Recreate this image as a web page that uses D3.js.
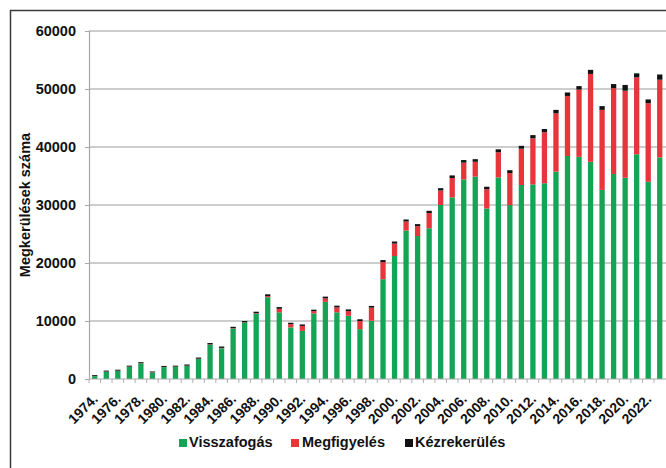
<!DOCTYPE html>
<html>
<head>
<meta charset="utf-8">
<script src="https://cdn.jsdelivr.net/npm/d3@7"></script>
<style>
  html, body { margin: 0; padding: 0; background: #fff; }
  svg { display: block; font-family: "Liberation Sans", Arial, sans-serif; }
</style>
</head>
<body>
<svg id="chart" width="666" height="468"></svg>
<script>
// Évek
const years = d3.range(1974, 2024);

// Visszafogás (zöld)
const visszafogas = [
  500, 1250, 1400, 2100, 2700, 1120, 2050, 2100, 2250, 3450,
  5900, 5300, 8700, 9700, 11250, 14100, 11500, 8900, 8300, 11300,
  13300, 11500, 10900, 8600, 10050, 17200, 21200, 25600, 24650, 26000,
  30000, 31300, 34400, 34900, 29400, 34750, 30000, 33450, 33550, 33750,
  35750, 38450, 38300, 37450, 32600, 35350, 34700, 38750, 34000, 38200
];

// Megfigyelés (piros)
const megfigyeles = [
  20, 30, 30, 30, 30, 30, 30, 30, 50, 50,
  60, 60, 60, 60, 100, 200, 600, 550, 850, 400,
  600, 840, 800, 1400, 2250, 2950, 2150, 1550, 1700, 2600,
  2500, 3350, 2900, 2550, 3300, 4350, 5500, 6250, 7950, 8800,
  10050, 10350, 11600, 15150, 13800, 14800, 15000, 13250, 13550, 13400
];

// Kézrekerülés (fekete)
const kezrekerules = [
  150, 170, 170, 170, 170, 150, 170, 170, 200, 200,
  240, 240, 240, 240, 250, 300, 300, 250, 250, 250,
  300, 300, 300, 300, 300, 350, 350, 350, 350, 400,
  400, 450, 450, 450, 450, 500, 500, 500, 550, 550,
  600, 600, 600, 700, 650, 700, 1000, 700, 650, 900
];

const yTicks = [0, 10000, 20000, 30000, 40000, 50000, 60000];

const seriesNames = ["Visszafogás", "Megfigyelés", "Kézrekerülés"];
const seriesColors = ["#14a456", "#e6353b", "#111111"];
const seriesKeys = ["v", "m", "k"];

const rows = years.map((yr, i) => ({
  year: yr, v: visszafogas[i], m: megfigyeles[i], k: kezrekerules[i]
}));

const svg = d3.select("#chart");

// Keret
svg.append("rect")
  .attr("x", 10.5).attr("y", 10.5)
  .attr("width", 720).attr("height", 520)
  .attr("fill", "none").attr("stroke", "#3a3a3a").attr("stroke-width", 1.5);

const plotLeft = 89, plotRight = 665.5, plotTop = 31, plotBottom = 379;

const x = d3.scaleBand()
  .domain(years)
  .range([plotLeft, plotRight])
  .paddingInner(0.54)
  .paddingOuter(0.27);

const y = d3.scaleLinear().domain([0, 60000]).range([plotBottom, plotTop]);

// Rácsvonalak
svg.append("g")
  .selectAll("line")
  .data(yTicks.filter(t => t > 0))
  .join("line")
  .attr("x1", plotLeft).attr("x2", 666)
  .attr("y1", d => y(d)).attr("y2", d => y(d))
  .attr("stroke", "#bcbcbc").attr("stroke-width", 1.5);

// Y tengely
const yAxis = svg.append("g")
  .attr("transform", `translate(${plotLeft},0)`)
  .call(d3.axisLeft(y).tickValues(yTicks).tickSize(4).tickPadding(9).tickFormat(d3.format("d")));
yAxis.select(".domain").attr("stroke", "#a8a8a8").attr("stroke-width", 1.2);
yAxis.selectAll(".tick line").attr("stroke", "#a8a8a8");
yAxis.selectAll(".tick text")
  .attr("font-size", "14.5px").attr("font-weight", "bold").attr("fill", "#111")
  .attr("font-family", "'Liberation Sans', Arial, sans-serif");

// Y tengely felirat
svg.append("text")
  .attr("transform", `translate(30,205) rotate(-90)`)
  .attr("text-anchor", "middle")
  .attr("font-size", "14.5px").attr("font-weight", "bold").attr("fill", "#111")
  .text("Megkerülések száma");

// Halmozott oszlopok
const stack = d3.stack().keys(seriesKeys)(rows);
svg.append("g")
  .selectAll("g")
  .data(stack)
  .join("g")
  .attr("fill", (d, i) => seriesColors[i])
  .selectAll("rect")
  .data(d => d)
  .join("rect")
  .attr("x", d => x(d.data.year))
  .attr("width", x.bandwidth())
  .attr("y", d => y(d[1]))
  .attr("height", d => y(d[0]) - y(d[1]));

// X tengely
const xAxis = svg.append("g")
  .attr("transform", `translate(0,${plotBottom})`);
xAxis.append("line")
  .attr("x1", plotLeft).attr("x2", 666).attr("y1", 0).attr("y2", 0)
  .attr("stroke", "#a8a8a8").attr("stroke-width", 1.2);
xAxis.selectAll("line.tick")
  .data(years)
  .join("line")
  .attr("class", "tick")
  .attr("x1", d => x(d) - x.step() * x.paddingInner() / 2)
  .attr("x2", d => x(d) - x.step() * x.paddingInner() / 2)
  .attr("y1", 0).attr("y2", 4)
  .attr("stroke", "#b0b0b0");

// Évszám feliratok (minden második év)
xAxis.selectAll("text")
  .data(years.filter(d => (d - 1974) % 2 === 0))
  .join("text")
  .attr("transform", d => `translate(${x(d) + x.bandwidth() / 2 + 4},${21}) rotate(-45)`)
  .attr("text-anchor", "end")
  .attr("font-size", "14px").attr("font-weight", "bold").attr("fill", "#111")
  .text(d => d + ".");

// Jelmagyarázat
const legendItems = [
  { sx: 179, tx: 189 },
  { sx: 291, tx: 302 },
  { sx: 405, tx: 415 }
];
const legend = svg.append("g");
legendItems.forEach((it, i) => {
  legend.append("rect")
    .attr("x", it.sx).attr("y", 439)
    .attr("width", 8).attr("height", 8)
    .attr("fill", seriesColors[i]);
  legend.append("text")
    .attr("x", it.tx).attr("y", 447)
    .attr("font-size", "14.5px").attr("font-weight", "bold").attr("fill", "#111")
    .text(seriesNames[i]);
});
</script>
</body>
</html>
